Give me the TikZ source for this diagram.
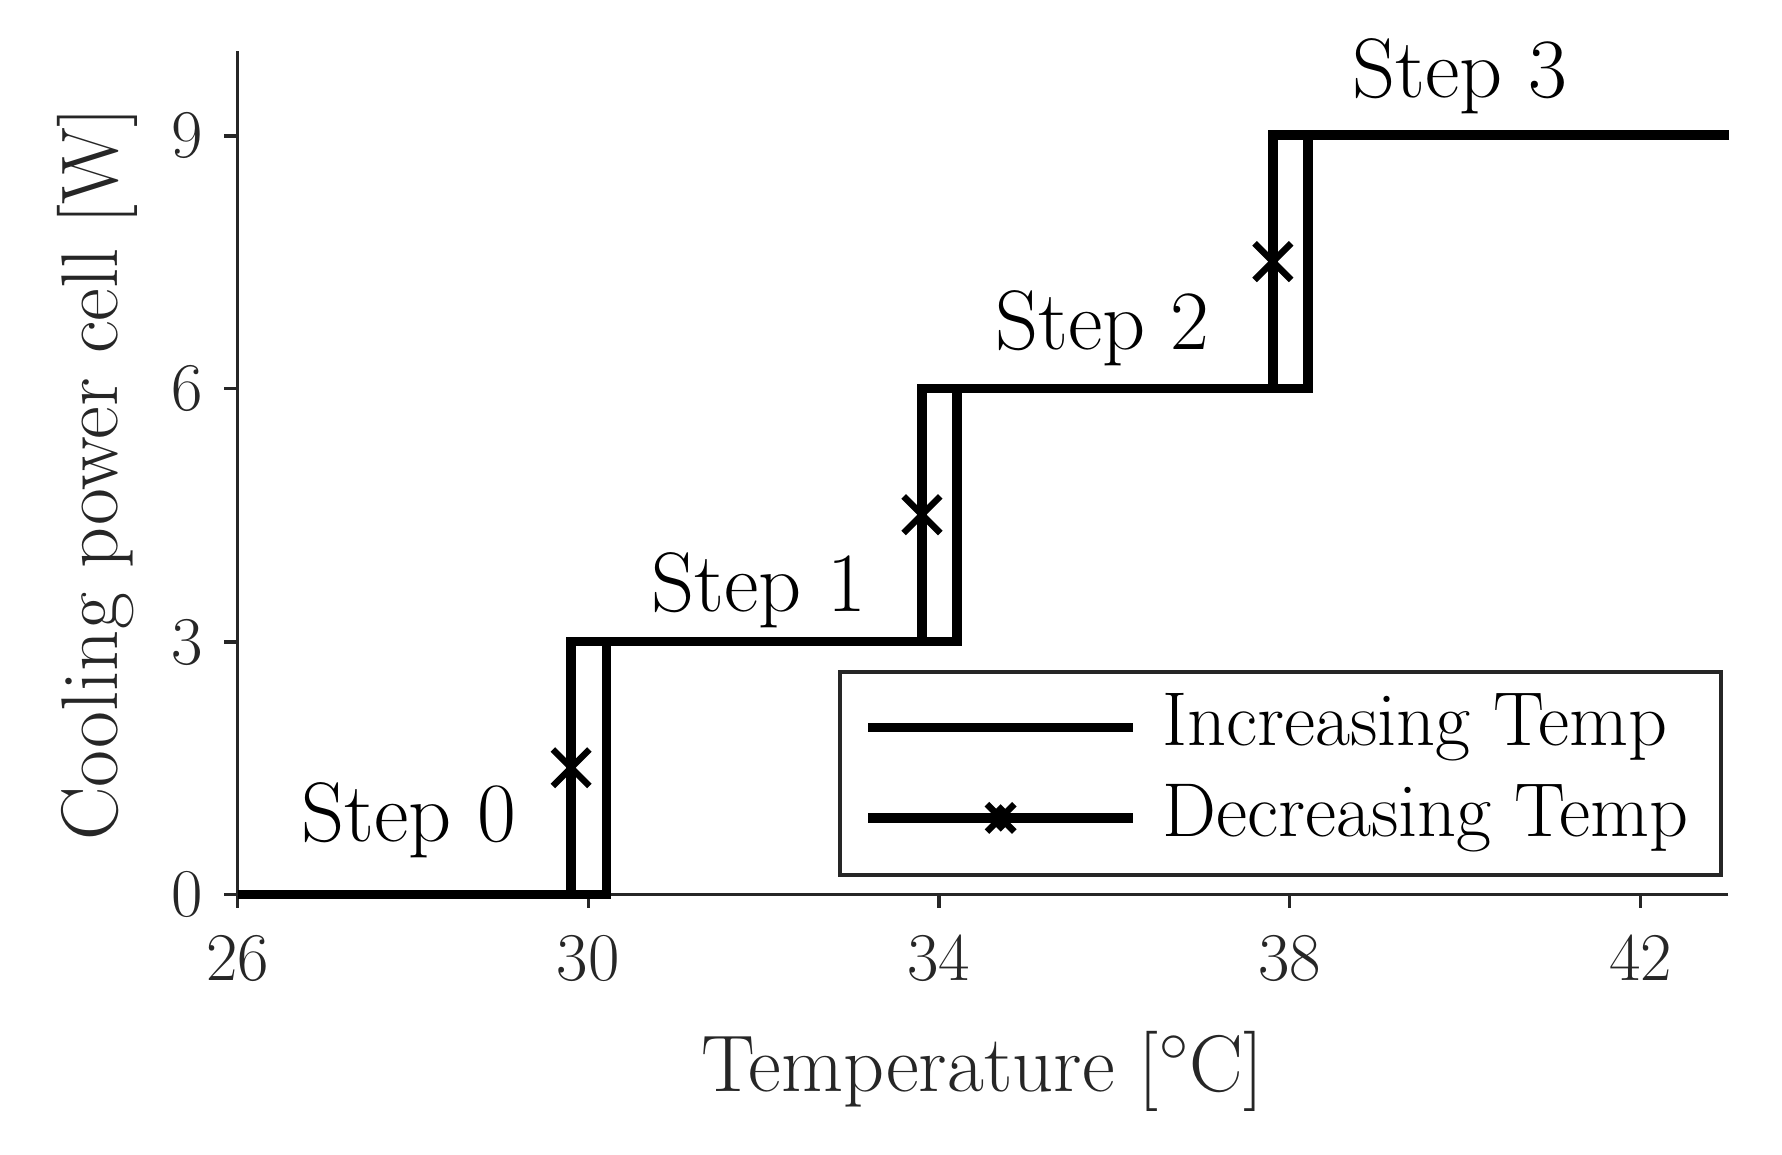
\documentclass[tikz,border=0pt]{standalone}
\usepackage{tikz}
\begin{document}
\begin{tikzpicture}[x=0.01cm,y=0.01cm,
  ax/.style={draw=black!85,line width=0.8pt},
  dat/.style={line width=2.3pt,line join=miter},
  mk/.style={line width=1.6pt},
  tl/.style={font=\fontsize{17}{17}\selectfont,text=black!85},
  st/.style={font=\fontsize{21}{21}\selectfont},
  lg/.style={font=\fontsize{19}{19}\selectfont}]
\useasboundingbox (0,0) rectangle (1560,1011);
% axes (displayed coords: y_tikz = 1011 - y)
\coordinate (o) at (208,228);
\coordinate (xe) at (1513,228);
\coordinate (ye) at (208,966);
\draw[ax] (xe) -- (o) -- (ye);
\foreach \t/\px in {26/208,30/515,34/822,38/1129,42/1436}{
  \draw[ax] (\px,228) -- (\px,216);
  \node[tl,anchor=north] (xt\t) at (\px,205) {\t};}
\foreach \v/\py in {0/228,3/449,6/671,9/892}{
  \draw[ax] (208,\py) -- (196,\py);
  \node[tl,anchor=east] (yt\v) at (190,\py) {\v};}
\node[font=\fontsize{20}{20}\selectfont,text=black!85] (xl) at (860,73) {Temperature [$^\circ$C]};
\node[font=\fontsize{20}{20}\selectfont,text=black!85,rotate=90] (yl) at (85,596) {Cooling power cell [W]};
% data
\begin{scope}[x=0.7675cm,y=0.738cm,shift={(2.08cm,2.28cm)}]
\draw[dat] (0,0) -- (4.2,0) -- (4.2,3) -- (8.2,3) -- (8.2,6) -- (12.2,6) -- (12.2,9) -- (17,9);
\draw[dat] (17,9) -- (11.8,9) -- (11.8,6) -- (7.8,6) -- (7.8,3) -- (3.8,3) -- (3.8,0) -- (0,0);
\foreach \px/\py in {3.8/1.5,7.8/4.5,11.8/7.5}{
  \draw[mk] ([shift={(-0.16cm,-0.16cm)}]\px,\py) -- ([shift={(0.16cm,0.16cm)}]\px,\py);
  \draw[mk] ([shift={(-0.16cm,0.16cm)}]\px,\py) -- ([shift={(0.16cm,-0.16cm)}]\px,\py);}
\end{scope}
\node[st] (s0) at (358,293) {Step 0};
\node[st] (s1) at (664,494) {Step 1};
\node[st] (s2) at (965,724) {Step 2};
\node[st] (s3) at (1278,944) {Step 3};
% legend
\draw[black!85,line width=1pt,fill=white] (735,245) rectangle (1507,423);
\draw[dat] (760,374) -- (992,374);
\draw[dat] (760,295) -- (992,295);
\fill (876,295) +(-12,0) -- +(0,12) -- +(12,0) -- +(0,-12) -- cycle;
\draw[mk] (864,283) -- (888,307) (864,307) -- (888,283);
\node[lg,anchor=west] (l1) at (1005,374) {Increasing Temp};
\node[lg,anchor=west] (l2) at (1005,295) {Decreasing Temp};
\end{tikzpicture}
\end{document}
